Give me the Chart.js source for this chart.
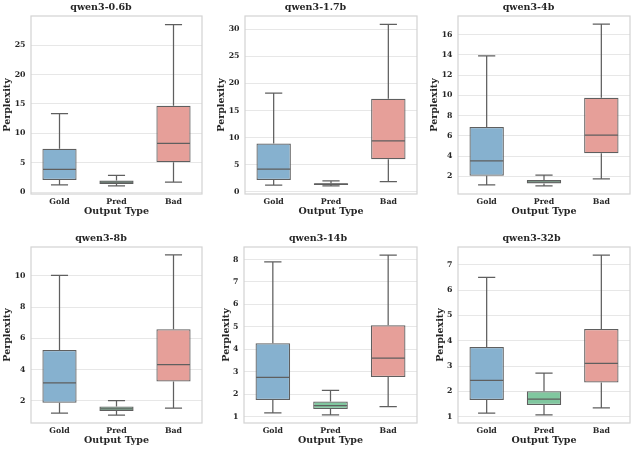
<!DOCTYPE html>
<html>
<head>
<meta charset="utf-8">
<script src="https://cdn.jsdelivr.net/npm/chart.js@4.4.0/dist/chart.umd.min.js"></script>
<style>
  html, body { margin: 0; padding: 0; background: #ffffff; }
  #wrap { position: relative; width: 635px; height: 450px; overflow: hidden; background: #fff; }
  canvas { position: absolute; }
</style>
</head>
<body>
<div id="wrap"></div>
<script>
// ---------- data ----------
const models = ['qwen3-0.6b', 'qwen3-1.7b', 'qwen3-4b', 'qwen3-8b', 'qwen3-14b', 'qwen3-32b'];
const categories = ['Gold', 'Pred', 'Bad'];

// per model: [Gold, Pred, Bad]
const whiskerLow  = [[1.24, 1.07, 1.70], [1.25, 1.10, 1.90], [1.17, 1.07, 1.77], [1.21, 1.08, 1.53], [1.16, 1.07, 1.44], [1.14, 1.07, 1.35]];
const quartile1   = [[2.10, 1.42, 5.10], [2.20, 1.25, 6.00], [2.07, 1.30, 4.30], [1.87, 1.34, 3.24], [1.74, 1.33, 2.76], [1.66, 1.46, 2.35]];
const medians     = [[3.90, 1.70, 8.30], [4.20, 1.40, 9.40], [3.53, 1.45, 6.08], [3.14, 1.47, 4.31], [2.74, 1.48, 3.60], [2.43, 1.69, 3.10]];
const quartile3   = [[7.40, 1.98, 14.70], [8.90, 1.60, 17.20], [6.88, 1.64, 9.76], [5.26, 1.63, 6.58], [4.27, 1.67, 5.07], [3.75, 2.00, 4.46]];
const whiskerHigh = [[13.35, 2.85, 28.50], [18.20, 2.00, 30.90], [13.90, 2.13, 17.03], [10.04, 2.00, 11.35], [7.90, 2.16, 8.20], [6.50, 2.72, 7.38]];

const yTicks = [
  [0, 5, 10, 15, 20, 25],
  [0, 5, 10, 15, 20, 25, 30],
  [2, 4, 6, 8, 10, 12, 14, 16],
  [2, 4, 6, 8, 10],
  [1, 2, 3, 4, 5, 6, 7, 8],
  [1, 2, 3, 4, 5, 6, 7]
];
const yMin = [-0.30, -0.40, 0.27, 0.57, 0.71, 0.75];
const yMax = [29.95, 32.45, 17.83, 11.86, 8.56, 7.70];

// ---------- style / layout ----------
const boxColors = ['#86b1cf', '#80c79f', '#e69f99'];
const lineColor = '#5f5f5f';
const textColor = '#262626';
const fontFamily = '"DejaVu Serif", "Liberation Serif", serif';

// canvas placement: [left, top, width, height, yAxisWidth]
const panels = [
  [0,   0,   203, 218, 31],
  [214, 0,   204, 218, 31],
  [427, 0,   204, 218, 31],
  [0,   231, 203, 216, 31],
  [219, 231, 199, 216, 25],
  [433, 231, 198, 216, 25]
];

const boxPlugin = {
  id: 'boxWhiskers',
  afterDatasetsDraw(chart, args, opts) {
    const p = opts.panel;
    const ctx = chart.ctx;
    const y = chart.scales.y;
    const meta = chart.getDatasetMeta(0);
    ctx.save();
    ctx.strokeStyle = lineColor;
    ctx.lineWidth = 1.25;
    ctx.lineCap = 'butt';
    meta.data.forEach((bar, i) => {
      const x = bar.x, w = bar.width;
      const lo = y.getPixelForValue(whiskerLow[p][i]);
      const b1 = y.getPixelForValue(quartile1[p][i]);
      const md = y.getPixelForValue(medians[p][i]);
      const b3 = y.getPixelForValue(quartile3[p][i]);
      const hi = y.getPixelForValue(whiskerHigh[p][i]);
      ctx.beginPath();
      ctx.moveTo(x, b1); ctx.lineTo(x, lo);
      ctx.moveTo(x - w / 4, lo); ctx.lineTo(x + w / 4, lo);
      ctx.moveTo(x, b3); ctx.lineTo(x, hi);
      ctx.moveTo(x - w / 4, hi); ctx.lineTo(x + w / 4, hi);
      ctx.moveTo(x - w / 2 + 0.6, md); ctx.lineTo(x + w / 2 - 0.6, md);
      ctx.stroke();
    });
    ctx.restore();
  },
  afterDraw(chart) {
    const a = chart.chartArea;
    const ctx = chart.ctx;
    ctx.save();
    ctx.strokeStyle = '#d3d3d3';
    ctx.lineWidth = 1.2;
    ctx.strokeRect(a.left, a.top, a.right - a.left, a.bottom - a.top);
    ctx.restore();
  }
};

const wrap = document.getElementById('wrap');
models.forEach((name, p) => {
  const [left, top, w, h, yw] = panels[p];
  const cv = document.createElement('canvas');
  cv.width = w; cv.height = h;
  cv.style.left = left + 'px';
  cv.style.top = top + 'px';
  cv.style.width = w + 'px';
  cv.style.height = h + 'px';
  wrap.appendChild(cv);

  new Chart(cv.getContext('2d'), {
    type: 'bar',
    data: {
      labels: categories,
      datasets: [{
        data: categories.map((c, i) => [quartile1[p][i], quartile3[p][i]]),
        backgroundColor: boxColors,
        borderColor: lineColor,
        borderWidth: 1.25,
        borderSkipped: false,
        categoryPercentage: 1.0,
        barPercentage: 0.6
      }]
    },
    plugins: [boxPlugin],
    options: {
      responsive: false,
      animation: false,
      devicePixelRatio: 1,
      layout: { padding: { left: 0, right: 1, top: 0, bottom: 0 } },
      plugins: {
        legend: { display: false },
        tooltip: { enabled: false },
        boxWhiskers: { panel: p },
        title: {
          display: true,
          text: name,
          color: textColor,
          font: { family: fontFamily, size: 9.5, weight: 'bold', lineHeight: 1.2 },
          padding: { top: 2.3, bottom: 2.3 }
        }
      },
      scales: {
        x: {
          type: 'category',
          offset: true,
          grid: { display: false, drawTicks: false },
          border: { display: false },
          ticks: {
            color: textColor,
            padding: 3.0,
            font: { family: fontFamily, size: 7.8, weight: 'bold', lineHeight: 1.2 }
          },
          title: {
            display: true,
            text: 'Output Type',
            color: textColor,
            padding: { top: 0, bottom: 0.5 },
            font: { family: fontFamily, size: 9.5, weight: 'bold', lineHeight: 1.2 }
          },
          afterFit(s) { s.height = 24; }
        },
        y: {
          type: 'linear',
          min: yMin[p],
          max: yMax[p],
          grid: { color: '#e4e4e4', lineWidth: 0.9, drawTicks: false },
          border: { display: false },
          ticks: {
            color: textColor,
            padding: 5.5,
            includeBounds: false,
            font: { family: fontFamily, size: 7.8, weight: 'bold', lineHeight: 1.2 },
            callback: (v) => String(v)
          },
          afterBuildTicks(s) { s.ticks = yTicks[p].map(v => ({ value: v })); },
          title: {
            display: true,
            text: 'Perplexity',
            color: textColor,
            padding: { top: 1.8, bottom: 0 },
            font: { family: fontFamily, size: 9.5, weight: 'bold', lineHeight: 1.2 }
          },
          afterFit(s) { s.width = yw; }
        }
      }
    }
  });
});
</script>
</body>
</html>
